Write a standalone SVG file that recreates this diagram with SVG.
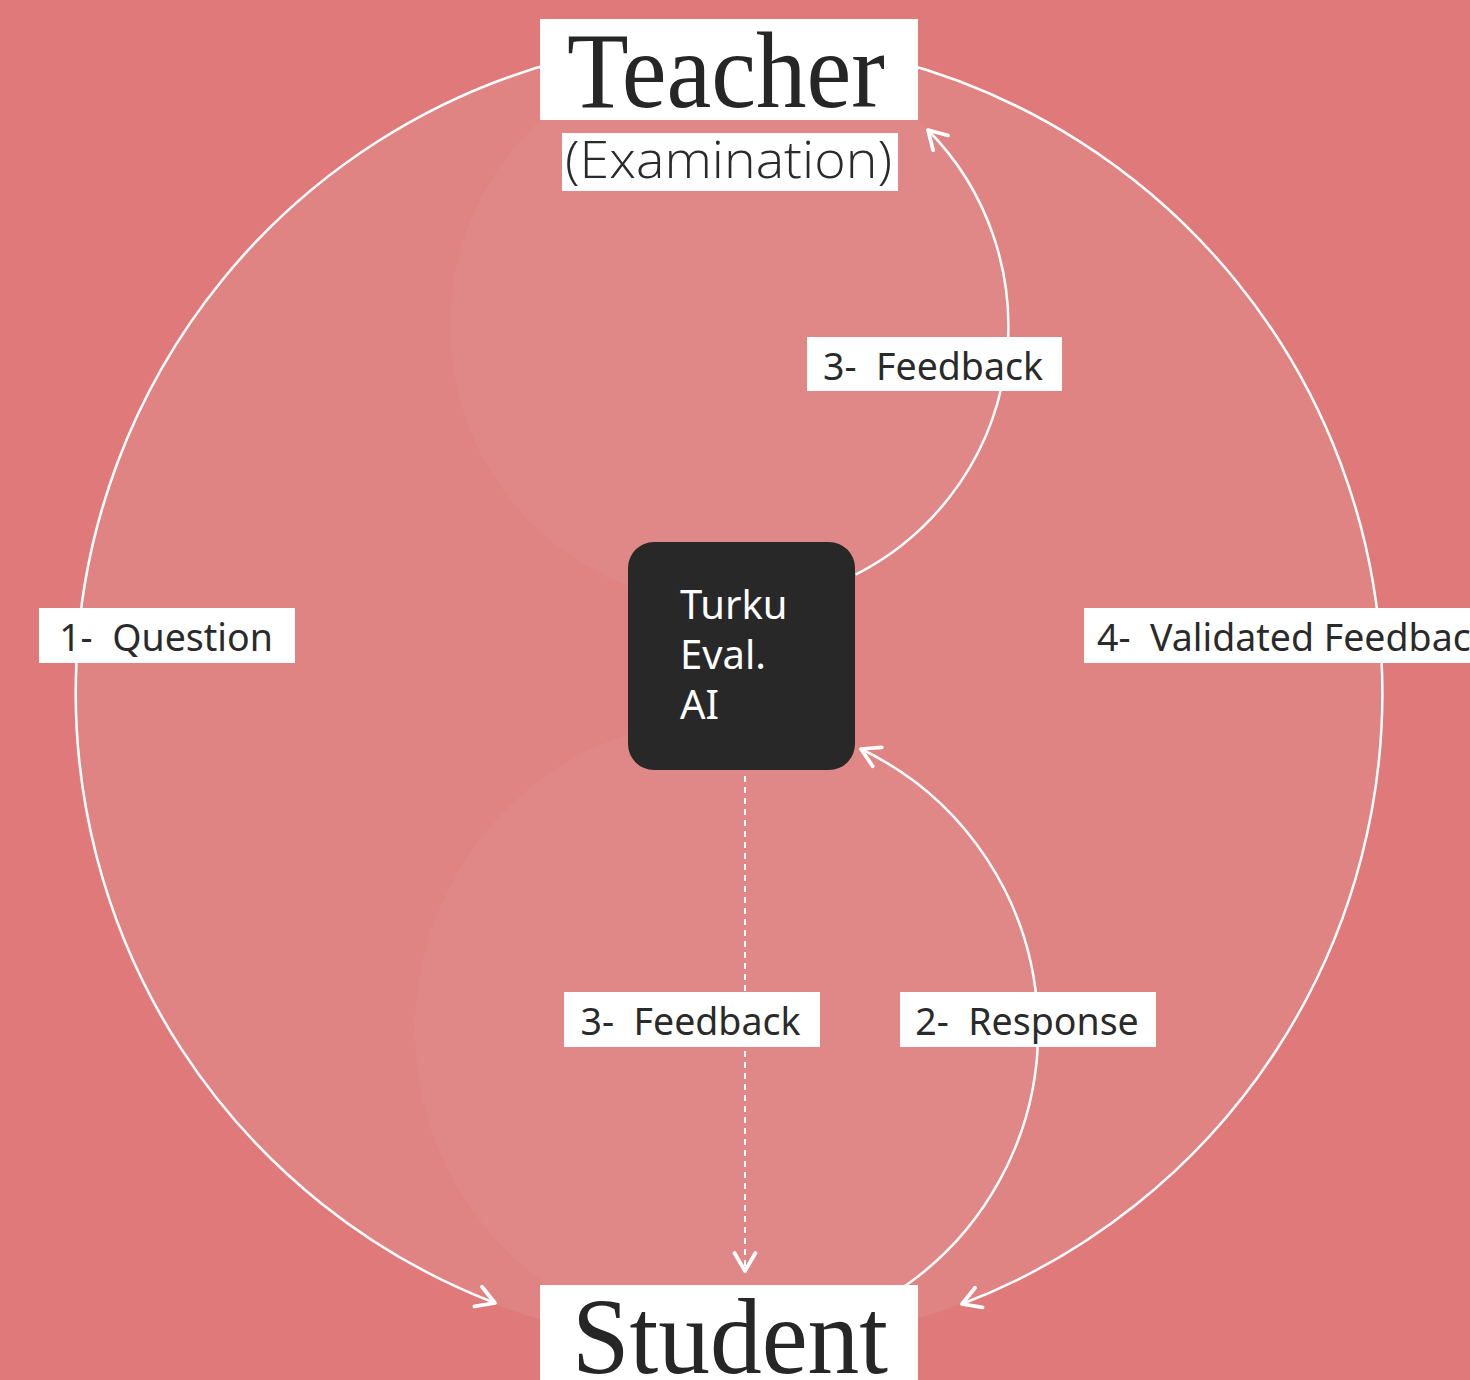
<svg xmlns="http://www.w3.org/2000/svg" width="1470" height="1380" viewBox="0 0 1470 1380">
  <style>
    .lbl-box { fill: #FFFFFF; }
    .lbl { font-family: "Noto Sans", "Open Sans", "DejaVu Sans", sans-serif; font-size: 37.5px; fill: #2A2A2A; white-space: pre; }
    .title { font-family: "Liberation Serif", "DejaVu Serif", serif; font-size: 108px; fill: #262626; }
    .sub { font-family: "Open Sans", "Noto Sans", sans-serif; font-weight: 300; font-size: 51px; fill: #2A2A2A; }
    .ai { font-family: "Noto Sans", "Open Sans", sans-serif; font-size: 40px; fill: #FFFFFF; }
    .conn { fill: none; stroke: #FFFFFF; stroke-width: 2.5; }
    .dash { stroke-width: 2; stroke-dasharray: 6 5; }
  </style>
  <defs>
    <marker id="arrow" markerUnits="userSpaceOnUse" markerWidth="30" markerHeight="30" viewBox="-16 -10 20 20" refX="0" refY="0" orient="auto">
      <path d="M -12 -7 L 0 0 L -12 7" fill="none" stroke="#FFFFFF" stroke-width="2.5" stroke-linecap="round" stroke-linejoin="round"/>
    </marker>
  </defs>

  <!-- background -->
  <rect x="0" y="0" width="1470" height="1380" fill="#E07A7A"/>
  <circle cx="727.6" cy="693" r="654" fill="#DF8383"/>
  <circle cx="729" cy="326" r="279" fill="#E08888"/>
  <circle cx="727" cy="1030" r="312" fill="#E08888"/>

  <!-- connectors -->
  <g id="connectors">
    <path class="conn" d="M 560 61 A 654 654 0 0 0 495 1303" marker-end="url(#arrow)"/>
    <path class="conn" d="M 896 61 A 654 654 0 0 1 962 1304" marker-end="url(#arrow)"/>
    <path class="conn" d="M 855.7 574.6 A 279 279 0 0 0 928 130" marker-end="url(#arrow)"/>
    <path class="conn" d="M 883 1300 A 312 312 0 0 0 861 749" marker-end="url(#arrow)"/>
    <path class="conn dash" d="M 745 776 L 745 1271" marker-end="url(#arrow)"/>
  </g>

  <!-- nodes -->
  <g id="teacher">
    <rect x="540" y="19" width="378" height="101" fill="#FFFFFF"/>
    <text class="title" x="726" y="107" text-anchor="middle" textLength="318" lengthAdjust="spacingAndGlyphs">Teacher</text>
    <rect x="562" y="133" width="336" height="58" fill="#FFFFFF"/>
    <text class="sub" x="728.5" y="178" text-anchor="middle" textLength="327" lengthAdjust="spacingAndGlyphs">(Examination)</text>
  </g>

  <g id="student">
    <rect x="540" y="1285" width="378" height="100" fill="#FFFFFF"/>
    <text class="title" x="730" y="1373" text-anchor="middle" textLength="316" lengthAdjust="spacingAndGlyphs">Student</text>
  </g>

  <g id="ai">
    <rect x="628" y="542" width="227" height="228" rx="26" ry="26" fill="#282828"/>
    <text class="ai" x="680" y="619">Turku</text>
    <text class="ai" x="680" y="669">Eval.</text>
    <text class="ai" x="680" y="719">AI</text>
  </g>

  <!-- labels -->
  <g id="label-feedback-top">
    <rect class="lbl-box" x="807" y="337" width="255" height="54"/>
    <text class="lbl" x="933" y="380" text-anchor="middle" xml:space="preserve">3-  Feedback</text>
  </g>
  <g id="label-question">
    <rect class="lbl-box" x="39" y="608" width="256" height="55"/>
    <text class="lbl" x="166" y="651" text-anchor="middle" xml:space="preserve">1-  Question</text>
  </g>
  <g id="label-validated">
    <rect class="lbl-box" x="1084" y="608" width="430" height="55"/>
    <text class="lbl" x="1097" y="651" xml:space="preserve">4-  Validated Feedback</text>
  </g>
  <g id="label-feedback-bottom">
    <rect class="lbl-box" x="564" y="992" width="256" height="55"/>
    <text class="lbl" x="690.5" y="1035" text-anchor="middle" xml:space="preserve">3-  Feedback</text>
  </g>
  <g id="label-response">
    <rect class="lbl-box" x="900" y="992" width="256" height="55"/>
    <text class="lbl" x="1027" y="1035" text-anchor="middle" xml:space="preserve">2-  Response</text>
  </g>
</svg>
